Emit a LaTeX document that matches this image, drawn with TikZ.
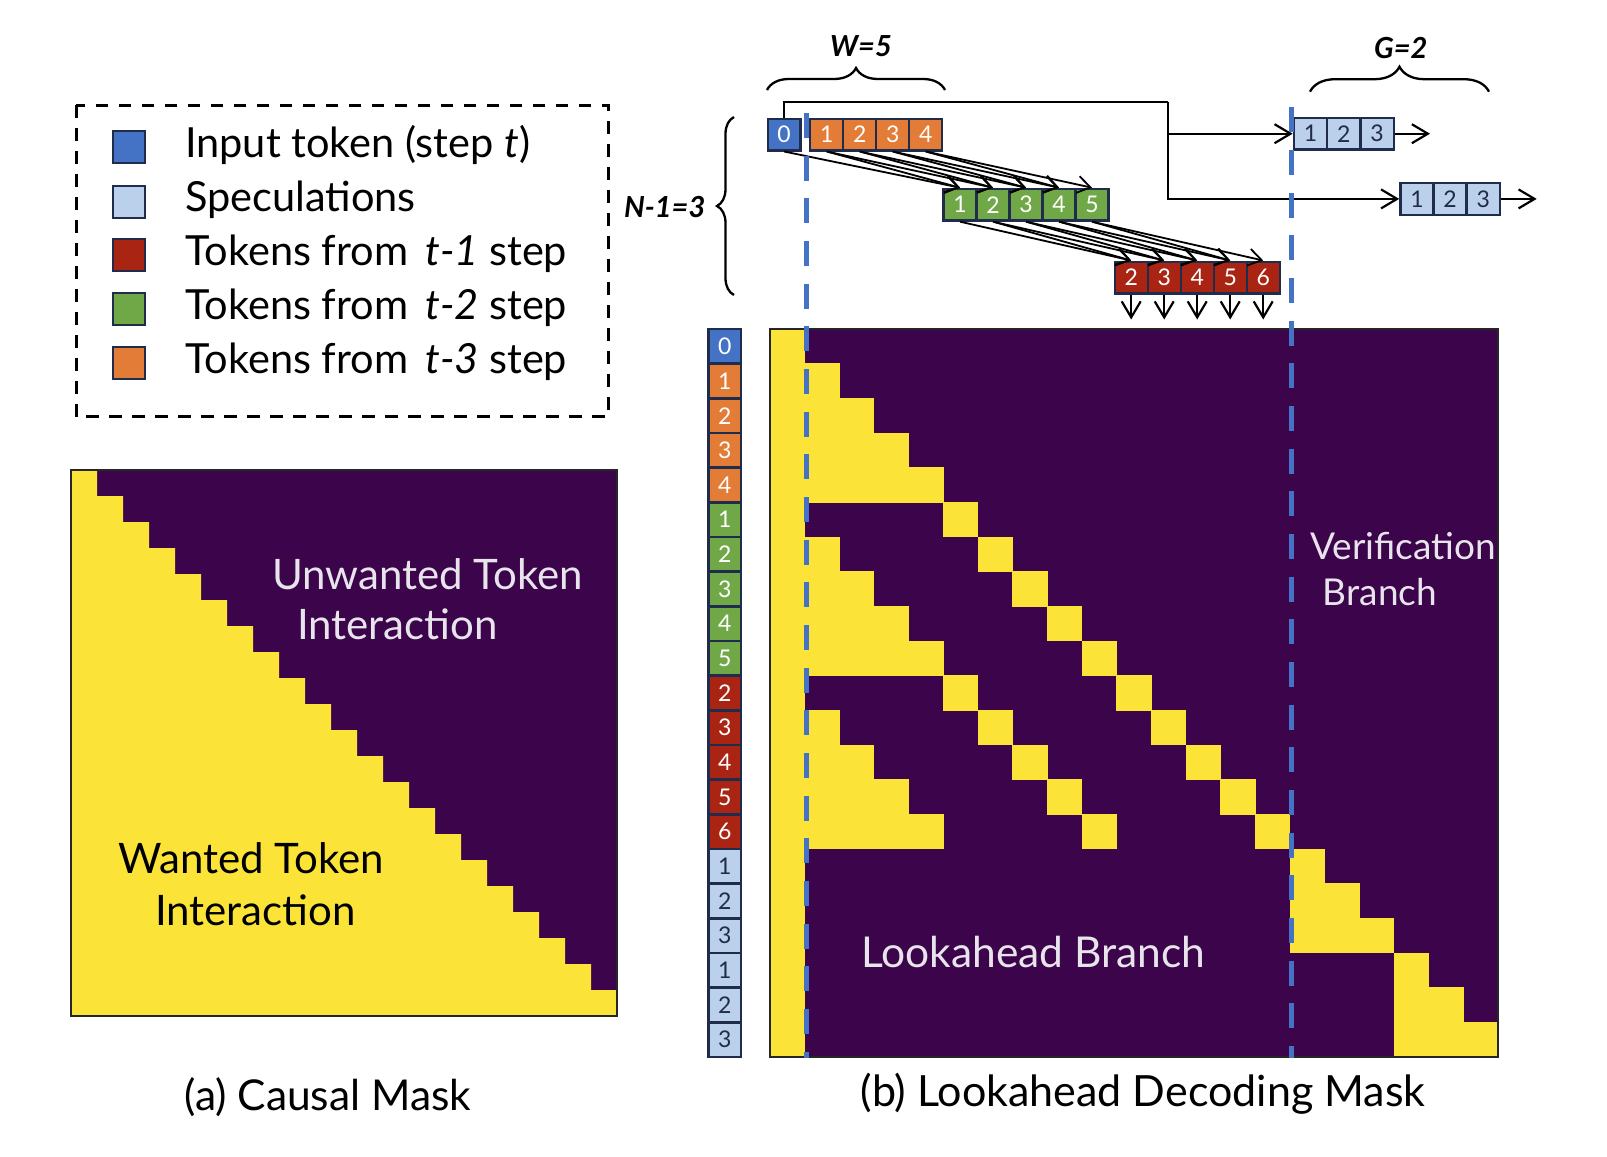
\documentclass[tikz,border=0pt]{standalone}
\usepackage{fontspec}
\setmainfont{Lato}
\usetikzlibrary{arrows.meta,decorations.pathreplacing}

\definecolor{inblue}{RGB}{68,114,196}
\definecolor{specblue}{RGB}{187,208,234}
\definecolor{tokred}{RGB}{170,36,20}
\definecolor{tokgreen}{RGB}{112,168,72}
\definecolor{tokorange}{RGB}{226,124,54}
\definecolor{navy}{RGB}{31,44,76}
\definecolor{vpurple}{RGB}{60,4,74}
\definecolor{vyellow}{RGB}{251,228,55}
\definecolor{softwhite}{RGB}{232,228,236}

% one yellow cell of the lookahead mask: column #1, row #2
\newcommand{\ycell}[2]{\fill[vyellow] ({770+#1*34.667-0.4},{329+#2*34.667-0.4}) rectangle ++(35.467,35.467);}

\begin{document}
\begin{tikzpicture}[x=1pt,y=-1pt,
  tok/.style={draw=navy, line width=2.4pt, minimum width=33pt, minimum height=31.6pt,
    inner sep=0pt, text=white, font=\fontsize{23}{27}\selectfont},
  spec/.style={tok, fill=specblue, text=navy, minimum width=33.3pt},
  lab/.style={draw=navy, line width=2.4pt, minimum width=32.6pt, minimum height=34.667pt,
    inner sep=0pt, font=\fontsize{23}{27}\selectfont},
  legsq/.style={draw=navy, line width=2.6pt, minimum size=32pt, inner sep=0pt},
  legtext/.style={anchor=base west, inner sep=0pt, font=\fontsize{41.5}{46}\selectfont},
  masktext/.style={inner sep=0pt, font=\fontsize{42}{48}\selectfont},
  branchtext/.style={inner sep=0pt, text=softwhite},
  caption/.style={anchor=base, inner sep=0pt},
  param/.style={inner sep=0pt, font=\fontsize{29}{34}\selectfont\bfseries\itshape},
  brace/.style={line width=2.3pt, decorate},
  conn/.style={line width=2.2pt},
  tip/.style={-{Straight Barb[length=16pt,width=19pt]}},
  flow/.style={line width=1.8pt, -{Straight Barb[length=13pt,width=17pt]}},
  divider/.style={draw=inblue, line width=5.5pt},
]
\useasboundingbox (0,0) rectangle (1607,1157);
\fill[white] (0,0) rectangle (1607,1157);

% ---------- legend ----------
\draw[line width=3pt, dash pattern=on 12.5pt off 10.5pt] (76,105) rectangle (608.5,416.7);
\node[legsq, fill=inblue]    (k0) at (129.1,147)   {};
\node[legsq, fill=specblue]  (k1) at (129.1,202)   {};
\node[legsq, fill=tokred]    (k2) at (129.1,254.8) {};
\node[legsq, fill=tokgreen]  (k3) at (129.1,308.8) {};
\node[legsq, fill=tokorange] (k4) at (129.1,362.8) {};
\node[legtext] (kt0) at (185,157)   {Input token (step \textit{t})};
\node[legtext] (kt1) at (185,211.5) {Speculations};
\node[legtext] (kt2) at (185,265)   {Tokens from \,\textit{t-1} step};
\node[legtext] (kt3) at (185,319.3) {Tokens from \,\textit{t-2} step};
\node[legtext] (kt4) at (185,373.3) {Tokens from \,\textit{t-3} step};

% ---------- causal mask ----------
\fill[vpurple] (71,470) rectangle (617,1016);
\fill[vyellow] (71,470) foreach \i in {1,...,21} { -- ({71+\i*26},{470+(\i-1)*26}) -- ({71+\i*26},{470+\i*26}) } -- (71,1016) -- cycle;
\draw[line width=2pt, draw=black!85] (71,470) rectangle (617,1016);
\node[masktext, text=softwhite, anchor=base] (uw1) at (427.5,589) {Unwanted Token};
\node[masktext, text=softwhite, anchor=base] (uw2) at (397.5,639) {Interaction};
\node[masktext, text=black, anchor=base] (w1) at (251,873) {Wanted Token};
\node[masktext, text=black, anchor=base] (w2) at (255.5,925) {Interaction};
\node[caption, font=\fontsize{42.5}{48}\selectfont] (capa) at (328,1110) {(a) Causal Mask};

% ---------- lookahead decoding mask ----------
\fill[vpurple] (770,329) rectangle (1498,1057);
\fill[vyellow] (770,329) rectangle (804.667,1057);
\foreach \r in {1,...,4} {\foreach \c in {1,...,\r} {\ycell{\c}{\r}}}
\foreach \r [evaluate=\r as \e using int(\r-5)] in {6,...,9} {\foreach \c in {1,...,\e} {\ycell{\c}{\r}}}
\foreach \r [evaluate=\r as \e using int(\r-10)] in {11,...,14} {\foreach \c in {1,...,\e} {\ycell{\c}{\r}}}
\foreach \r in {5,...,14} {\ycell{\r}{\r}}
\foreach \r [evaluate=\r as \e using int(\r-5)] in {10,...,14} {\ycell{\e}{\r}}
\foreach \r in {15,16,17} {\foreach \c in {15,...,\r} {\ycell{\c}{\r}}}
\foreach \r in {18,19,20} {\foreach \c in {18,...,\r} {\ycell{\c}{\r}}}
\draw[line width=2pt, draw=black!85] (770,329) rectangle (1498,1057);

% row labels
\foreach \r/\dg/\bg/\fg in {0/0/inblue/white, 1/1/tokorange/white, 2/2/tokorange/white,
    3/3/tokorange/white, 4/4/tokorange/white, 5/1/tokgreen/white, 6/2/tokgreen/white,
    7/3/tokgreen/white, 8/4/tokgreen/white, 9/5/tokgreen/white, 10/2/tokred/white,
    11/3/tokred/white, 12/4/tokred/white, 13/5/tokred/white, 14/6/tokred/white,
    15/1/specblue/navy, 16/2/specblue/navy, 17/3/specblue/navy,
    18/1/specblue/navy, 19/2/specblue/navy, 20/3/specblue/navy}
  {\node[lab, fill=\bg, text=\fg] (lab\r) at (724.8,{329+(\r+0.5)*34.667}) {\dg};}

\node[branchtext, anchor=base west, font=\fontsize{37}{42}\selectfont] (vb1) at (1310,559) {Verification};
\node[branchtext, anchor=base west, font=\fontsize{37}{42}\selectfont] (vb2) at (1322.7,605) {Branch};
\node[branchtext, anchor=base west, font=\fontsize{42.5}{48}\selectfont] (lb) at (861,967) {Lookahead Branch};
\node[caption, font=\fontsize{43}{48}\selectfont] (capb) at (1143,1106) {(b) Lookahead Decoding Mask};

% ---------- 2D window of tokens ----------
\node[tok, fill=inblue, minimum width=32.5pt] (t0) at (784.05,134.5) {0};
\foreach \i/\x in {1/826.7, 2/859.7, 3/892.7, 4/925.7}
  {\node[tok, fill=tokorange] (o\i) at (\x,134.5) {\i};}
\foreach \i/\x in {1/960.1, 2/993.1, 3/1026.1, 4/1059.1, 5/1092.1}
  {\node[tok, fill=tokgreen] (g\i) at (\x,204.7) {\i};}
\foreach \i/\x in {2/1131.2, 3/1164.2, 4/1197.2, 5/1230.2, 6/1263.2}
  {\node[tok, fill=tokred] (r\i) at (\x,277.5) {\i};}
\foreach \i/\x in {1/1310.55, 2/1343.85, 3/1377.15}
  {\node[spec] (sa\i) at (\x,133.7) {\i};}
\foreach \i/\x in {1/1417.05, 2/1450.15, 3/1483.25}
  {\node[spec] (sb\i) at (\x,198.9) {\i};}

% generation arrows between successive steps
\draw[flow] (t0.south) -- (g1.north);
\foreach \i [evaluate=\i as \n using int(\i+1)] in {1,...,4} {
  \draw[flow] (o\i.south) -- (g\i.north);
  \draw[flow] (o\i.south) -- (g\n.north);
}
\draw[flow] (g1.south) -- (r2.north);
\foreach \i [evaluate=\i as \n using int(\i+1)] in {2,...,5} {
  \draw[flow] (g\i.south) -- (r\i.north);
  \draw[flow] (g\i.south) -- (r\n.north);
}

% outputs of the last step
\foreach \i in {2,...,6} {
  \path (r\i.south) ++(0,25) coordinate (d\i);
  \draw[conn, tip] (r\i.south) -- (d\i);
}

% input token routed to the speculations
\coordinate (hop) at (1168.3,102.3);
\draw[conn] (t0.north) |- (hop);
\draw[conn, tip] (hop) |- (sa1.west);
\draw[conn, tip] (hop) |- (sb1.west);
\coordinate (saend) at (1430,133.7);
\coordinate (sbend) at (1536.7,198.9);
\draw[conn, tip] (sa3.east) -- (saend);
\draw[conn, tip] (sb3.east) -- (sbend);

% braces and parameters
\draw[brace, decoration={brace, amplitude=22pt}] (767,90) -- (945,90);
\node[param] (wlab) at (861,46) {W=5};
\draw[brace, decoration={brace, amplitude=25pt}] (1310,91.7) -- (1489,91.7);
\node[param] (glab) at (1400.8,47.8) {G=2};
\draw[brace, decoration={brace, amplitude=17pt}] (734,295) -- (734,117);
\node[param] (nlab) at (664.7,206.7) {N-1=3};

% branch dividers
\draw[divider, dash pattern=on 25pt off 17.67pt] (806.7,113) -- (806.7,1058);
\draw[divider, dash pattern=on 25pt off 17.67pt] (1291.7,107.3) -- (1291.7,1058);
\end{tikzpicture}
\end{document}
